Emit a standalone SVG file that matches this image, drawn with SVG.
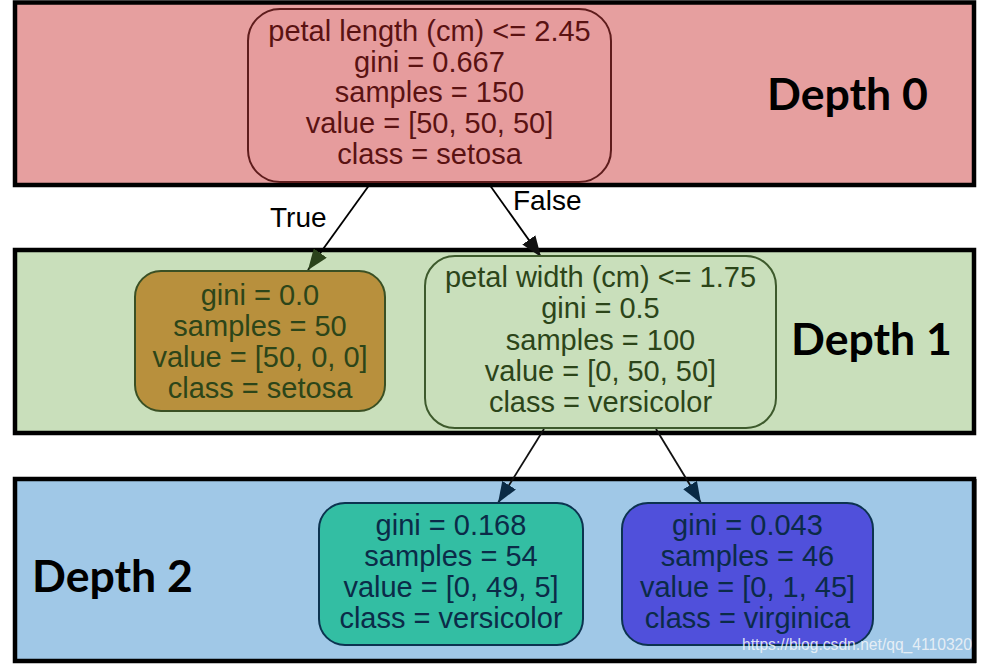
<svg xmlns="http://www.w3.org/2000/svg" width="995" height="665" viewBox="0 0 995 665">
<style>
.band{stroke:#000;stroke-width:4.5}
.node{stroke-width:2}
.t{font-family:"Liberation Sans",Arial,sans-serif;font-size:29px;text-anchor:middle}
.d0 .t{fill:#5a1212}
.d1 .t{fill:#2c4519}
.d2 .t{fill:#0b2b48}
.depth{font-family:Lato,"Open Sans","Liberation Sans",sans-serif;font-weight:bold;font-size:44px;fill:#000}
.lbl{font-family:"Liberation Sans",Arial,sans-serif;font-size:28px;fill:#000}
.edge{stroke-width:1.8;fill:none}
</style>
<defs>
<marker id="ahG" markerUnits="userSpaceOnUse" markerWidth="22" markerHeight="16" refX="21" refY="8" orient="auto"><path d="M0,0 L21,8 L0,16 z" fill="#2a421b"/></marker>
<marker id="ahK" markerUnits="userSpaceOnUse" markerWidth="22" markerHeight="16" refX="21" refY="8" orient="auto"><path d="M0,0 L21,8 L0,16 z" fill="#111"/></marker>
<marker id="ahB" markerUnits="userSpaceOnUse" markerWidth="22" markerHeight="16" refX="21" refY="8" orient="auto"><path d="M0,0 L21,8 L0,16 z" fill="#0a2a45"/></marker>
</defs>

<g id="bands">
<rect id="band0" class="band" x="15" y="2.5" width="959" height="182.5" fill="#e69f9f"/>
<rect id="band1" class="band" x="15" y="250" width="959" height="183" fill="#c9dfbb"/>
<rect id="band2" class="band" x="15" y="479" width="959" height="182" fill="#a0c8e7"/>
</g>

<g id="labels">
<text class="depth" x="767" y="110" textLength="161" lengthAdjust="spacingAndGlyphs">Depth 0</text>
<text class="depth" x="791" y="355" textLength="161" lengthAdjust="spacingAndGlyphs">Depth 1</text>
<text class="depth" x="32" y="592" textLength="161" lengthAdjust="spacingAndGlyphs">Depth 2</text>
</g>

<g id="connectors">
<line class="edge" x1="370" y1="184" x2="308" y2="270" stroke="#000" marker-end="url(#ahG)"/>
<line class="edge" x1="489" y1="184" x2="541" y2="257" stroke="#000" marker-end="url(#ahK)"/>
<line class="edge" x1="544" y1="429" x2="498" y2="503" stroke="#111" marker-end="url(#ahB)"/>
<line class="edge" x1="656" y1="429" x2="701" y2="503" stroke="#111" marker-end="url(#ahB)"/>
<text class="lbl" x="270" y="227">True</text>
<text class="lbl" x="513" y="210">False</text>
</g>

<g id="node0" class="d0">
<rect class="node" x="248" y="9" width="363" height="173" rx="32" fill="#e69c9d" stroke="#5e1c1c"/>
<text class="t" x="429.5" y="40.5">petal length (cm) &lt;= 2.45</text>
<text class="t" x="429.5" y="71.5">gini = 0.667</text>
<text class="t" x="429.5" y="102">samples = 150</text>
<text class="t" x="429.5" y="133">value = [50, 50, 50]</text>
<text class="t" x="429.5" y="164">class = setosa</text>
</g>

<g id="node1" class="d1">
<rect class="node" x="135" y="271" width="250" height="140" rx="26" fill="#b8903d" stroke="#3a5024"/>
<text class="t" x="260" y="305">gini = 0.0</text>
<text class="t" x="260" y="336">samples = 50</text>
<text class="t" x="260" y="367">value = [50, 0, 0]</text>
<text class="t" x="260" y="398">class = setosa</text>
</g>

<g id="node2" class="d1">
<rect class="node" x="425" y="256" width="351" height="172" rx="30" fill="#c9dfbb" stroke="#3d5a2c"/>
<text class="t" x="600.5" y="287">petal width (cm) &lt;= 1.75</text>
<text class="t" x="600.5" y="318">gini = 0.5</text>
<text class="t" x="600.5" y="349.5">samples = 100</text>
<text class="t" x="600.5" y="381">value = [0, 50, 50]</text>
<text class="t" x="600.5" y="412">class = versicolor</text>
</g>

<g id="node3" class="d2">
<rect class="node" x="319" y="503" width="264" height="142" rx="26" fill="#33bea3" stroke="#0c3350"/>
<text class="t" x="451" y="535">gini = 0.168</text>
<text class="t" x="451" y="566">samples = 54</text>
<text class="t" x="451" y="597">value = [0, 49, 5]</text>
<text class="t" x="451" y="628">class = versicolor</text>
</g>

<g id="node4" class="d2">
<rect class="node" x="622" y="503" width="251" height="142" rx="26" fill="#5050db" stroke="#0c3350"/>
<text class="t" x="747.5" y="535">gini = 0.043</text>
<text class="t" x="747.5" y="566">samples = 46</text>
<text class="t" x="747.5" y="597">value = [0, 1, 45]</text>
<text class="t" x="747.5" y="628">class = virginica</text>
</g>

<text x="742" y="650" font-family="Liberation Sans,Arial,sans-serif" font-size="17" fill="#eef3f7" fill-opacity="0.9" textLength="230" lengthAdjust="spacingAndGlyphs">https://blog.csdn.net/qq_4110320</text>
<rect x="972" y="479" width="4.5" height="184" fill="#000"/>
</svg>
